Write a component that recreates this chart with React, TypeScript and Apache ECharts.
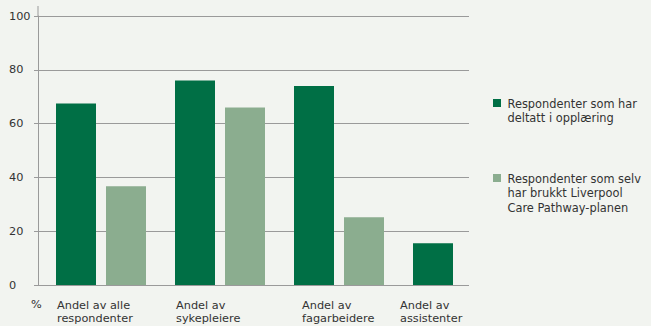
import React, { useEffect, useRef } from "react";
import * as echarts from "echarts";

const categories = [
  "Andel av alle\nrespondenter",
  "Andel av\nsykepleiere",
  "Andel av\nfagarbeidere",
  "Andel av\nassistenter",
];
const seriesNames = [
  "Respondenter som har\ndeltatt i opplæring",
  "Respondenter som selv\nhar brukkt Liverpool\nCare Pathway-planen",
];
const trainedValues = [67.5, 76, 74, 15.5];
const usedValues: (number | null)[] = [36.7, 66, 25.2, null];
const yTicks = [0, 20, 40, 60, 80, 100];
const unitLabel = "%";

const DARK = "#006f45";
const LIGHT = "#8bad8f";
const BG = "#f2f4f0";
const GRID = "#9a9a9a";
const TEXT = "#333333";
const FONT = "DejaVu Sans";

export default function App() {
  const ref = useRef<HTMLDivElement>(null);
  useEffect(() => {
    document.body.style.margin = "0";
    document.body.style.background = BG;
    const chart = echarts.init(ref.current!, undefined, { renderer: "svg" });
    const labelWidths = [88, 88, 74, 116];
    const rich: Record<string, any> = {};
    labelWidths.forEach((w, i) => {
      rich["c" + i] = {
        width: w,
        align: "left",
        fontFamily: FONT,
        fontSize: 11.3,
        lineHeight: 12.8,
        color: TEXT,
      };
    });
    const legendGraphics: any[] = [];
    const legendTops = [99, 174];
    seriesNames.forEach((name, i) => {
      legendGraphics.push({
        type: "rect",
        shape: { x: 493, y: legendTops[i], width: 8, height: 8 },
        style: { fill: i === 0 ? DARK : LIGHT },
      });
      legendGraphics.push({
        type: "text",
        x: 507.5,
        y: legendTops[i] - 2.5,
        style: {
          text: name,
          fontFamily: FONT,
          fontSize: 11.4,
          lineHeight: 14.5,
          fill: TEXT,
          verticalAlign: "top",
        },
      });
    });
    chart.setOption({
      animation: false,
      backgroundColor: BG,
      grid: [
        { left: 38, top: 16, width: 431, height: 269 },
        { left: 41.5, top: 16, width: 476, height: 269 },
      ],
      xAxis: [
        { type: "value", gridIndex: 0, show: false, min: 0, max: 1 },
        {
          type: "category",
          gridIndex: 1,
          data: categories,
          axisLine: { show: false },
          axisTick: { show: false },
          axisLabel: {
            margin: 14,
            interval: 0,
            formatter: (v: string, idx: number) =>
              v
                .split("\n")
                .map((l) => `{c${idx}|${l}}`)
                .join("\n"),
            rich,
          },
        },
      ],
      yAxis: [
        {
          type: "value",
          gridIndex: 0,
          min: yTicks[0],
          max: yTicks[yTicks.length - 1],
          interval: yTicks[1] - yTicks[0],
          axisLine: { show: true, lineStyle: { color: GRID, width: 1 } },
          axisTick: { show: true, length: 4, lineStyle: { color: GRID } },
          splitLine: { show: true, lineStyle: { color: GRID, width: 1 } },
          axisLabel: {
            align: "left",
            margin: 29,
            fontFamily: FONT,
            fontSize: 11.3,
            color: TEXT,
          },
        },
        {
          type: "value",
          gridIndex: 1,
          min: yTicks[0],
          max: yTicks[yTicks.length - 1],
          show: false,
          splitLine: { show: false },
        },
      ],
      series: [
        {
          type: "bar",
          name: seriesNames[0],
          xAxisIndex: 1,
          yAxisIndex: 1,
          data: trainedValues,
          barWidth: 40,
          barGap: "25%",
          itemStyle: { color: DARK },
        },
        {
          type: "bar",
          name: seriesNames[1],
          xAxisIndex: 1,
          yAxisIndex: 1,
          data: usedValues,
          barWidth: 40,
          barGap: "25%",
          itemStyle: { color: LIGHT },
        },
      ],
      graphic: [
        {
          type: "line",
          shape: { x1: 38, y1: 6, x2: 38, y2: 16 },
          style: { stroke: GRID, lineWidth: 1 },
        },
        {
          type: "text",
          x: 31,
          y: 298.5,
          style: {
            text: unitLabel,
            fontFamily: FONT,
            fontSize: 11.3,
            fill: TEXT,
            verticalAlign: "top",
          },
        },
        ...legendGraphics,
      ],
    });
    return () => chart.dispose();
  }, []);
  return <div ref={ref} style={{ width: 651, height: 326, background: BG }} />;
}
